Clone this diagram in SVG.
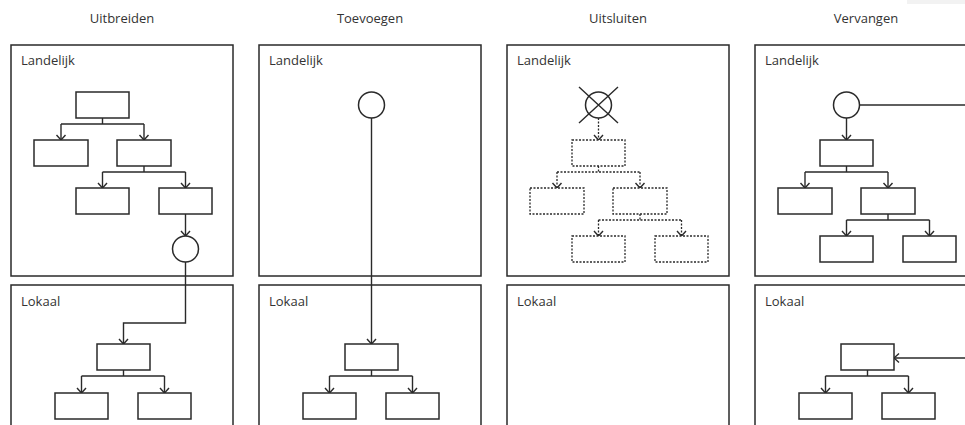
<svg xmlns="http://www.w3.org/2000/svg" width="965" height="425" viewBox="0 0 965 425">
  <style>
    .title { font-family: "Open Sans", "Noto Sans", "Liberation Sans", sans-serif; font-size: 13px; fill: #333; text-anchor: middle; }
    .label { font-family: "Open Sans", "Noto Sans", "Liberation Sans", sans-serif; font-size: 13px; fill: #333; }
    .panel { fill: #fff; stroke: #2a2a2a; stroke-width: 1.5; }
    .node { fill: #fff; stroke: #2a2a2a; stroke-width: 1.5; }
    .ghost { fill: #fff; stroke: #2a2a2a; stroke-width: 1.3; stroke-dasharray: 2 1.5; }
    .link { fill: none; stroke: #2a2a2a; stroke-width: 1.4; }
    .dlink { fill: none; stroke: #2a2a2a; stroke-width: 1.3; stroke-dasharray: 2 1.5; }
  </style>
  <defs>
    <marker id="arrow" viewBox="-7 -6 8 12" refX="0" refY="0" markerWidth="8" markerHeight="12" markerUnits="userSpaceOnUse" orient="auto">
      <path d="M-5,-4.5 L0,0 L-5,4.5" fill="none" stroke="#2a2a2a" stroke-width="1.4"/>
    </marker>
  </defs>

  <rect x="0" y="0" width="965" height="425" fill="#fff"/>
  <rect x="907" y="0" width="58" height="4" fill="#f2f2f2"/>

  <!-- column headings -->
  <g id="headings">
    <text class="title" x="122" y="23">Uitbreiden</text>
    <text class="title" x="370" y="23">Toevoegen</text>
    <text class="title" x="618" y="23">Uitsluiten</text>
    <text class="title" x="866" y="23">Vervangen</text>
  </g>

  <!-- national / local frames -->
  <g id="frames">
    <g id="uitbreiden-landelijk"><rect class="panel" x="11" y="45" width="222" height="231"/><text class="label" x="21" y="65">Landelijk</text></g>
    <g id="uitbreiden-lokaal"><rect class="panel" x="11" y="285" width="222" height="150"/><text class="label" x="21" y="306">Lokaal</text></g>
    <g id="toevoegen-landelijk"><rect class="panel" x="259" y="45" width="222" height="231"/><text class="label" x="269" y="65">Landelijk</text></g>
    <g id="toevoegen-lokaal"><rect class="panel" x="259" y="285" width="222" height="150"/><text class="label" x="269" y="306">Lokaal</text></g>
    <g id="uitsluiten-landelijk"><rect class="panel" x="507" y="45" width="222" height="231"/><text class="label" x="517" y="65">Landelijk</text></g>
    <g id="uitsluiten-lokaal"><rect class="panel" x="507" y="285" width="222" height="150"/><text class="label" x="517" y="306">Lokaal</text></g>
    <g id="vervangen-landelijk"><rect class="panel" x="755" y="45" width="222" height="231"/><text class="label" x="765" y="65">Landelijk</text></g>
    <g id="vervangen-lokaal"><rect class="panel" x="755" y="285" width="222" height="150"/><text class="label" x="765" y="306">Lokaal</text></g>
  </g>

  <!-- connectors -->
  <g id="connectors">
    <!-- Uitbreiden -->
    <path class="link" d="M102.5,118 V124 M61,124 H144"/>
    <path class="link" d="M61,124 V140" marker-end="url(#arrow)"/>
    <path class="link" d="M144,124 V140" marker-end="url(#arrow)"/>
    <path class="link" d="M144,166 V172 M102.5,172 H185.5"/>
    <path class="link" d="M102.5,172 V188" marker-end="url(#arrow)"/>
    <path class="link" d="M185.5,172 V188" marker-end="url(#arrow)"/>
    <path class="link" d="M185.5,214 V236" marker-end="url(#arrow)"/>
    <path class="link" d="M185.5,262 V323 H123.5 V344" marker-end="url(#arrow)"/>
    <path class="link" d="M123.5,370 V376 M81.5,376 H164.5"/>
    <path class="link" d="M81.5,376 V393" marker-end="url(#arrow)"/>
    <path class="link" d="M164.5,376 V393" marker-end="url(#arrow)"/>

    <!-- Toevoegen -->
    <path class="link" d="M371.5,118 V344" marker-end="url(#arrow)"/>
    <path class="link" d="M371.5,370 V376 M329.5,376 H412.5"/>
    <path class="link" d="M329.5,376 V393" marker-end="url(#arrow)"/>
    <path class="link" d="M412.5,376 V393" marker-end="url(#arrow)"/>

    <!-- Uitsluiten -->
    <path class="dlink" d="M598.5,118 V140" marker-end="url(#arrow)"/>
    <path class="dlink" d="M598.5,166 V172 M557,172 H640"/>
    <path class="dlink" d="M557,172 V188" marker-end="url(#arrow)"/>
    <path class="dlink" d="M640,172 V188" marker-end="url(#arrow)"/>
    <path class="dlink" d="M640,214 V220 M598.5,220 H681.5"/>
    <path class="dlink" d="M598.5,220 V236" marker-end="url(#arrow)"/>
    <path class="dlink" d="M681.5,220 V236" marker-end="url(#arrow)"/>

    <!-- Vervangen -->
    <path class="link" d="M860,105 H970"/>
    <path class="link" d="M846.5,118 V140" marker-end="url(#arrow)"/>
    <path class="link" d="M846.5,166 V172 M805,172 H888"/>
    <path class="link" d="M805,172 V188" marker-end="url(#arrow)"/>
    <path class="link" d="M888,172 V188" marker-end="url(#arrow)"/>
    <path class="link" d="M888,214 V220 M846.5,220 H929.5"/>
    <path class="link" d="M846.5,220 V236" marker-end="url(#arrow)"/>
    <path class="link" d="M929.5,220 V236" marker-end="url(#arrow)"/>
    <path class="link" d="M970,358 H894" marker-end="url(#arrow)"/>
    <path class="link" d="M867.5,370 V376 M825.5,376 H908.5"/>
    <path class="link" d="M825.5,376 V393" marker-end="url(#arrow)"/>
    <path class="link" d="M908.5,376 V393" marker-end="url(#arrow)"/>
  </g>

  <!-- Uitbreiden nodes -->
  <g id="u-root"><rect class="node" x="76" y="92" width="53" height="26"/></g>
  <g id="u-a"><rect class="node" x="34" y="140" width="54" height="26"/></g>
  <g id="u-b"><rect class="node" x="117" y="140" width="54" height="26"/></g>
  <g id="u-b1"><rect class="node" x="76" y="188" width="53" height="26"/></g>
  <g id="u-b2"><rect class="node" x="159" y="188" width="53" height="26"/></g>
  <g id="u-hook"><circle class="node" cx="185.5" cy="249" r="13"/></g>
  <g id="u-local-root"><rect class="node" x="97" y="344" width="53" height="26"/></g>
  <g id="u-local-a"><rect class="node" x="55" y="393" width="53" height="26"/></g>
  <g id="u-local-b"><rect class="node" x="138" y="393" width="53" height="26"/></g>

  <!-- Toevoegen nodes -->
  <g id="t-hook"><circle class="node" cx="371.5" cy="105" r="13"/></g>
  <g id="t-local-root"><rect class="node" x="345" y="344" width="53" height="26"/></g>
  <g id="t-local-a"><rect class="node" x="303" y="393" width="53" height="26"/></g>
  <g id="t-local-b"><rect class="node" x="386" y="393" width="53" height="26"/></g>

  <!-- Uitsluiten nodes -->
  <g id="x-hook">
    <circle class="node" cx="598.5" cy="105" r="13"/>
    <path class="link" d="M579,87 L618,123 M618,87 L579,123"/>
  </g>
  <g id="x-root"><rect class="ghost" x="572" y="140" width="53" height="26"/></g>
  <g id="x-a"><rect class="ghost" x="530" y="188" width="54" height="26"/></g>
  <g id="x-b"><rect class="ghost" x="613" y="188" width="54" height="26"/></g>
  <g id="x-b1"><rect class="ghost" x="572" y="236" width="53" height="26"/></g>
  <g id="x-b2"><rect class="ghost" x="655" y="236" width="53" height="26"/></g>

  <!-- Vervangen nodes -->
  <g id="v-hook"><circle class="node" cx="846.5" cy="105" r="13"/></g>
  <g id="v-root"><rect class="node" x="820" y="140" width="53" height="26"/></g>
  <g id="v-a"><rect class="node" x="778" y="188" width="54" height="26"/></g>
  <g id="v-b"><rect class="node" x="861" y="188" width="54" height="26"/></g>
  <g id="v-b1"><rect class="node" x="820" y="236" width="53" height="26"/></g>
  <g id="v-b2"><rect class="node" x="903" y="236" width="53" height="26"/></g>
  <g id="v-local-root"><rect class="node" x="841" y="344" width="53" height="26"/></g>
  <g id="v-local-a"><rect class="node" x="799" y="393" width="53" height="26"/></g>
  <g id="v-local-b"><rect class="node" x="882" y="393" width="53" height="26"/></g>
</svg>
